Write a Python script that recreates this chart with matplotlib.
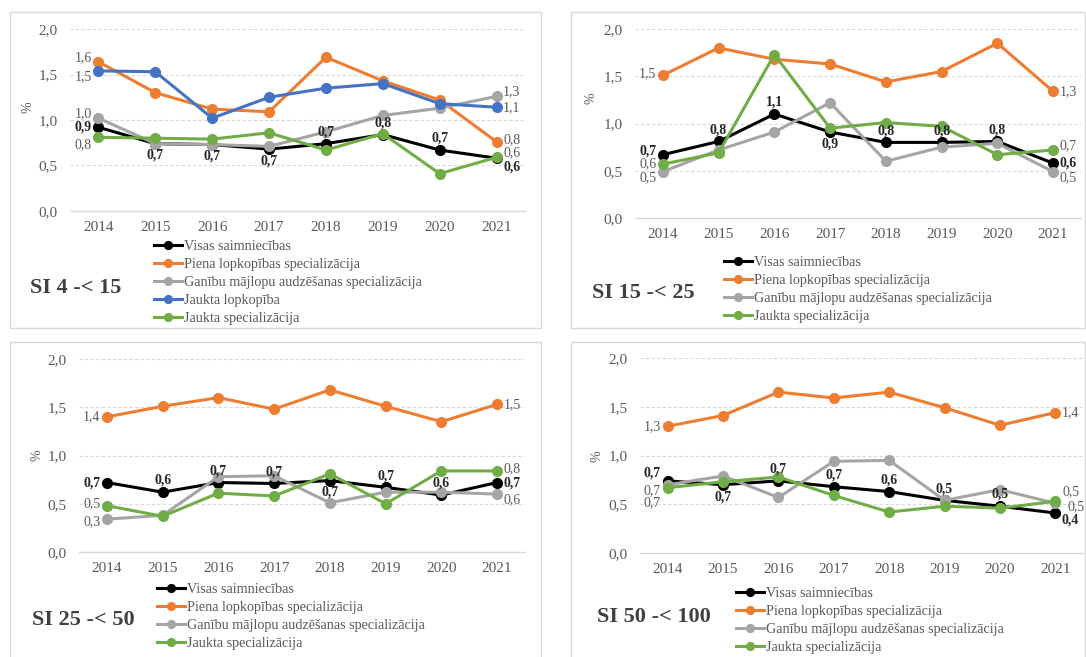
import matplotlib.pyplot as plt
from matplotlib.patches import Rectangle

plt.rcParams["font.family"] = ["Liberation Serif", "DejaVu Serif"]

W, H = 1086, 657

years = ["2014", "2015", "2016", "2017", "2018", "2019", "2020", "2021"]
series_names = [
    "Visas saimniecības",
    "Piena lopkopības specializācija",
    "Ganību mājlopu audzēšanas specializācija",
    "Jaukta lopkopība",
    "Jaukta specializācija",
]
panel_titles = ["SI 4 -< 15", "SI 15 -< 25", "SI 25 -< 50", "SI 50 -< 100"]

# SI 4 -< 15
p1_visas = [0.92, 0.74, 0.73, 0.68, 0.74, 0.84, 0.67, 0.58]
p1_piena = [1.64, 1.30, 1.12, 1.09, 1.69, 1.43, 1.22, 0.76]
p1_ganibu = [1.02, 0.74, 0.73, 0.71, 0.87, 1.05, 1.13, 1.26]
p1_lopkopiba = [1.54, 1.53, 1.02, 1.25, 1.35, 1.40, 1.18, 1.14]
p1_jaukta = [0.81, 0.80, 0.79, 0.86, 0.67, 0.85, 0.41, 0.59]

# SI 15 -< 25
p2_visas = [0.67, 0.81, 1.10, 0.91, 0.80, 0.80, 0.81, 0.58]
p2_piena = [1.51, 1.80, 1.68, 1.63, 1.44, 1.55, 1.85, 1.34]
p2_ganibu = [0.49, 0.72, 0.91, 1.22, 0.60, 0.75, 0.79, 0.49]
p2_jaukta = [0.57, 0.69, 1.73, 0.95, 1.01, 0.97, 0.67, 0.72]

# SI 25 -< 50
p3_visas = [0.72, 0.62, 0.72, 0.71, 0.74, 0.67, 0.59, 0.72]
p3_piena = [1.40, 1.51, 1.60, 1.48, 1.68, 1.51, 1.35, 1.53]
p3_ganibu = [0.34, 0.38, 0.78, 0.79, 0.51, 0.62, 0.62, 0.60]
p3_jaukta = [0.48, 0.37, 0.61, 0.58, 0.81, 0.50, 0.84, 0.84]

# SI 50 -< 100
p4_visas = [0.74, 0.70, 0.74, 0.68, 0.63, 0.54, 0.48, 0.41]
p4_piena = [1.30, 1.41, 1.65, 1.59, 1.65, 1.49, 1.31, 1.44]
p4_ganibu = [0.70, 0.79, 0.57, 0.94, 0.95, 0.54, 0.65, 0.51]
p4_jaukta = [0.67, 0.73, 0.78, 0.59, 0.42, 0.48, 0.46, 0.53]

colors = ["#000000", "#ED7D31", "#A5A5A5", "#4472C4", "#70AD47"]
txt_gray = "#595959"
grid_gray = "#D9D9D9"


def px(x0, x1, ytop, ybot):
    return [x0 / W, 1 - ybot / H, (x1 - x0) / W, (ybot - ytop) / H]


# frame boxes, axes boxes, "%" label, title, legend anchor (pixels);
# label offsets in points for the first / last point of each series
panels = [
    dict(frame=(10, 12, 541, 328), box=px(70, 525, 29, 211), pct=(28, 107),
         title=(30, 288), leg=(154, 240),
         data=[p1_visas, p1_piena, p1_ganibu, p1_lopkopiba, p1_jaukta], series=[0, 1, 2, 3, 4],
         black_pos=["l", "b", "b", "b", "a", "a", "a", "r"],
         first_dy=[0, 3, 3.5, -4, -5], last_dy=[-6, 1.5, 3.5, 0, 3],
         last_dx=[11, 11, 11, 11, 11]),
    dict(frame=(571, 12, 1085, 328), box=px(635, 1081, 29, 218), pct=(591, 98),
         title=(592, 293), leg=(724, 256),
         data=[p2_visas, p2_piena, p2_ganibu, p2_jaukta], series=[0, 1, 2, 4],
         black_pos=["l", "a", "a", "b", "a", "a", "a", "r"],
         first_dy=[3, 1.5, -4, 0], last_dy=[0, 0, -4, 3],
         last_dx=[11, 11, 11, 11]),
    dict(frame=(10, 342, 541, 660), box=px(79, 525, 359, 552), pct=(37, 455),
         title=(32, 620), leg=(157, 583),
         data=[p3_visas, p3_piena, p3_ganibu, p3_jaukta], series=[0, 1, 2, 4],
         black_pos=["l", "a", "a", "a", "b", "a", "a", "r"],
         first_dy=[0, 0, -2, 1.5], last_dy=[0, 0, -4, 1.5],
         last_dx=[11, 11, 11, 11]),
    dict(frame=(571, 342, 1085, 660), box=px(640, 1083, 358, 553), pct=(597, 456),
         title=(597, 617), leg=(736, 587),
         data=[p4_visas, p4_piena, p4_ganibu, p4_jaukta], series=[0, 1, 2, 4],
         black_pos=["l", "b", "a", "a", "a", "a", "a", "r"],
         first_dy=[6, 0, -4, -11], last_dy=[-5, 0, -2.5, 7],
         last_dx=[11, 11, 15, 11]),
]


def fmt(v):
    return "{:.1f}".format(v).replace(".", ",")


fig = plt.figure(figsize=(W / 100, H / 100), dpi=100)

for n, p in enumerate(panels):
    x0, y0, x1, y1 = p["frame"]
    fig.patches.append(Rectangle((x0 / W, 1 - y1 / H), (x1 - x0) / W, (y1 - y0) / H,
                                 transform=fig.transFigure, fill=False,
                                 edgecolor=grid_gray, linewidth=1.0))

    ax = fig.add_axes(p["box"])
    ax.set_xlim(-0.5, len(years) - 0.5)
    ax.set_ylim(0, 2.0)
    ax.set_yticks([0, 0.5, 1.0, 1.5, 2.0])
    ax.set_yticklabels(["0,0", "0,5", "1,0", "1,5", "2,0"])
    ax.set_xticks(range(len(years)))
    ax.set_xticklabels(years)
    ax.tick_params(length=0, labelsize=11, colors=txt_gray)
    ax.tick_params(axis="y", pad=9)
    ax.tick_params(axis="x", pad=7)
    for s in ["top", "right", "left"]:
        ax.spines[s].set_visible(False)
    ax.spines["bottom"].set_color(grid_gray)
    ax.spines["bottom"].set_linewidth(1.0)
    ax.set_facecolor("none")
    for g in [0.5, 1.0, 1.5, 2.0]:
        ax.axhline(g, color=grid_gray, linewidth=0.8, linestyle=(0, (3, 2)), zorder=0)

    xs = list(range(len(years)))
    handles = []
    for k, (vals, si) in enumerate(zip(p["data"], p["series"])):
        h, = ax.plot(xs, vals, color=colors[si], linewidth=2.2, marker="o",
                     markersize=7, zorder=2 + k, clip_on=False)
        handles.append(h)

        bold = si == 0
        lab_kw = dict(textcoords="offset points", ha="center", va="center",
                      fontsize=10, zorder=10, annotation_clip=False,
                      color="#262626" if bold else txt_gray,
                      fontweight="bold" if bold else "normal")
        ax.annotate(fmt(vals[0]), (0, vals[0]), xytext=(-11, p["first_dy"][k]), **lab_kw)
        ax.annotate(fmt(vals[-1]), (xs[-1], vals[-1]),
                    xytext=(p["last_dx"][k], p["last_dy"][k]), **lab_kw)
        if bold:
            for i in range(1, len(xs) - 1):
                dy = 8.5 if p["black_pos"][i] == "a" else -8.5
                ax.annotate(fmt(vals[i]), (i, vals[i]), xytext=(0, dy), **lab_kw)

    fig.text(p["pct"][0] / W, 1 - p["pct"][1] / H, "%", rotation=90, fontsize=10,
             color=txt_gray, ha="center", va="center")
    fig.text(p["title"][0] / W, 1 - p["title"][1] / H, panel_titles[n],
             fontsize=16, fontweight="bold", color="#404040", ha="left", va="center")
    fig.legend(handles, [series_names[si] for si in p["series"]], loc="upper left",
               bbox_to_anchor=(p["leg"][0] / W, 1 - p["leg"][1] / H),
               frameon=False, fontsize=10.2, labelcolor=txt_gray, borderpad=0,
               borderaxespad=0, handlelength=2.0, handletextpad=0.15,
               labelspacing=0.36, markerscale=0.8)

plt.savefig("out.png", dpi=100)
